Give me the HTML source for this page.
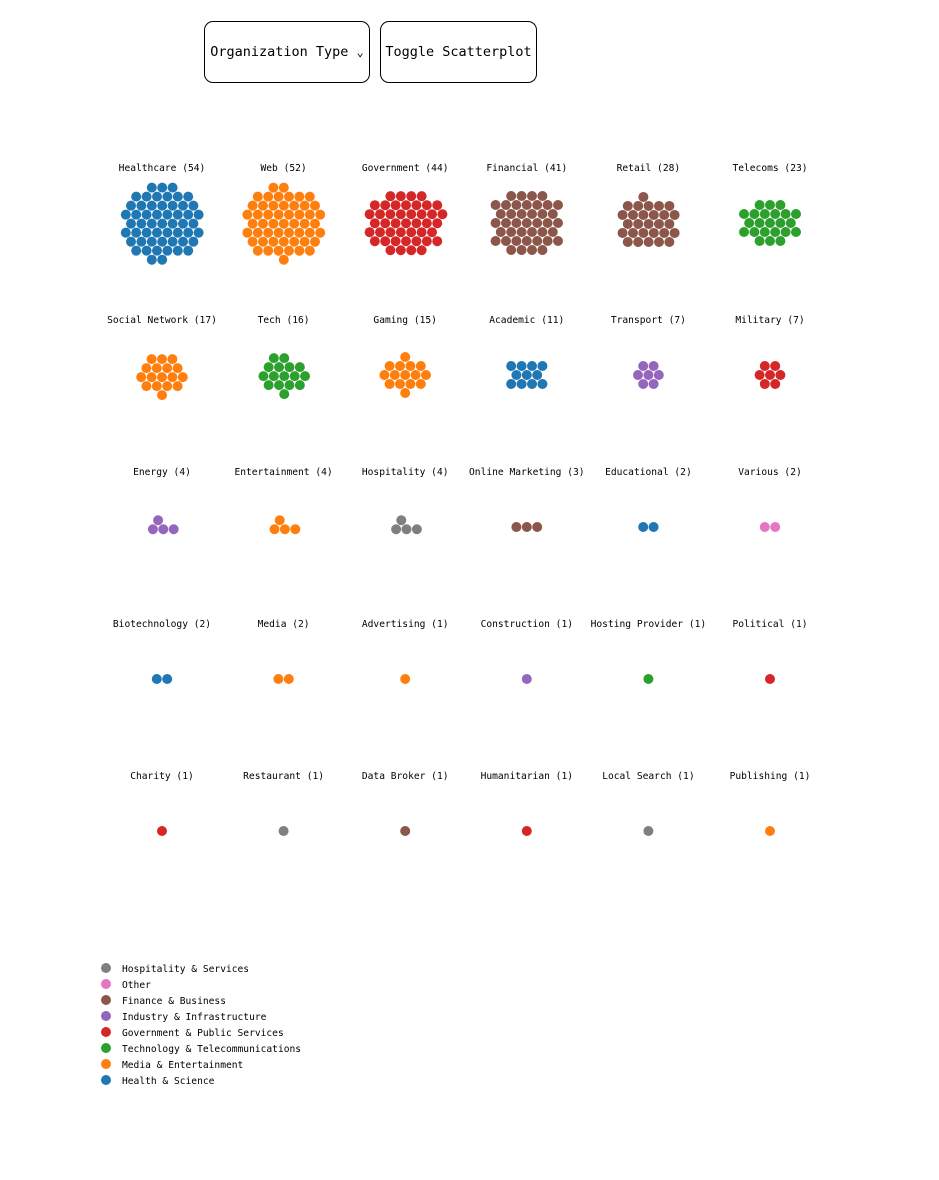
<!DOCTYPE html>
<html><head><meta charset="utf-8">
<style>
html,body{margin:0;padding:0;background:#fff;width:939px;height:1180px;overflow:hidden;font-family:"DejaVu Sans Mono","Liberation Mono",monospace;}
.btn{position:absolute;top:21px;height:62px;border:1px solid #000;border-radius:9px;background:#fff;font-family:"DejaVu Sans Mono","Liberation Mono",monospace;font-size:13.5px;color:#000;box-sizing:border-box;display:flex;align-items:center;justify-content:center;}
svg{position:absolute;left:0;top:0;}
</style></head><body>
<div class="btn" style="left:204px;width:166px;">Organization Type&nbsp;<span style="font-size:12px">⌄</span></div>
<div class="btn" style="left:380px;width:157px;">Toggle Scatterplot</div>
<svg id="chart" width="939" height="1180"></svg>
<script>
const categories=["Healthcare","Web","Government","Financial","Retail","Telecoms","Social Network","Tech","Gaming","Academic","Transport","Military","Energy","Entertainment","Hospitality","Online Marketing","Educational","Various","Biotechnology","Media","Advertising","Construction","Hosting Provider","Political","Charity","Restaurant","Data Broker","Humanitarian","Local Search","Publishing"];
const counts=[54,52,44,41,28,23,17,16,15,11,7,7,4,4,4,3,2,2,2,2,1,1,1,1,1,1,1,1,1,1];
const groups=["health","media","gov","finance","finance","tech","media","tech","media","health","industry","gov","industry","media","hosp","finance","health","other","health","media","media","industry","tech","gov","gov","hosp","finance","gov","hosp","media"];
const legendNames=["Hospitality & Services","Other","Finance & Business","Industry & Infrastructure","Government & Public Services","Technology & Telecommunications","Media & Entertainment","Health & Science"];
const legendKeys=["hosp","other","finance","industry","gov","tech","media","health"];
const colors={hosp:"#7f7f7f",other:"#e377c2",finance:"#8c564b",industry:"#9467bd",gov:"#d62728",tech:"#2ca02c",media:"#ff7f0e",health:"#1f77b4"};
const NS="http://www.w3.org/2000/svg";
const svg=document.getElementById('chart');
const colX=i=>162+i*121.6;
const rowY=j=>167+j*152;
const sp=10.4,pts=[];
for(let r=-8;r<=8;r++)for(let c=-8;c<=8;c++){const x=(c+(r&1?0.5:0))*sp,y=r*sp*0.866;pts.push([x,y,Math.hypot(x,y*1.05)+0.001*(x+2*y)]);}
pts.sort((a,b)=>a[2]-b[2]);
categories.forEach((cat,i)=>{
  const cx=colX(i%6),ly=rowY(Math.floor(i/6)),cy=ly+56;
  const g=document.createElementNS(NS,'g');
  
  
  const t=document.createElementNS(NS,'text');
  
  
  t.setAttribute('x',cx);t.setAttribute('y',ly+4);t.setAttribute('text-anchor','middle');
  t.setAttribute('font-size','9.6');t.setAttribute('font-family','DejaVu Sans Mono, Liberation Mono, monospace');
  t.textContent=cat+' ('+counts[i]+')';g.appendChild(t);
  const n=counts[i];let mx=0,my=0;
  for(let k=0;k<n;k++){mx+=pts[k][0];my+=pts[k][1];}mx/=n;my/=n;
  for(let k=0;k<n;k++){
    const c=document.createElementNS(NS,'circle');
    
    
    c.setAttribute('cx',cx+pts[k][0]-mx);c.setAttribute('cy',cy+pts[k][1]-my);c.setAttribute('r',5);
    c.setAttribute('fill',colors[groups[i]]);g.appendChild(c);
  }
  svg.appendChild(g);
});
legendNames.forEach((nm,i)=>{
  const y=968+i*16;
  const c=document.createElementNS(NS,'circle');
  
  
  c.setAttribute('cx',106);c.setAttribute('cy',y);c.setAttribute('r',5);c.setAttribute('fill',colors[legendKeys[i]]);
  svg.appendChild(c);
  const t=document.createElementNS(NS,'text');
  
  
  t.setAttribute('x',122);t.setAttribute('y',y+4);t.setAttribute('font-size','9.6');
  t.setAttribute('font-family','DejaVu Sans Mono, Liberation Mono, monospace');
  t.textContent=nm;svg.appendChild(t);
});
</script>
</body></html>
